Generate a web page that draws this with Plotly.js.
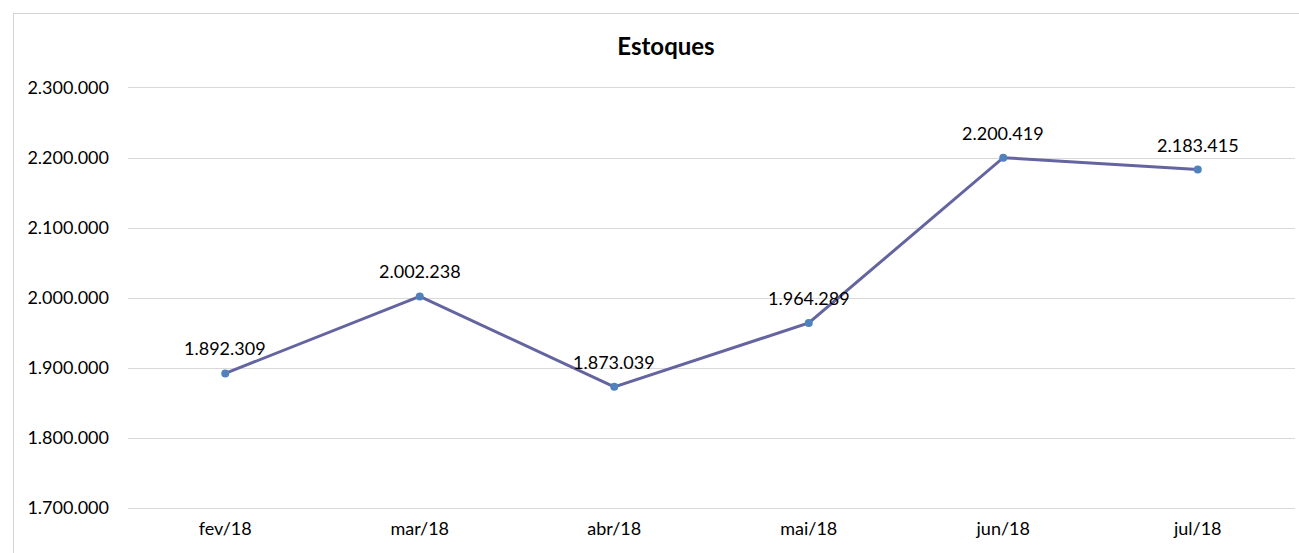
<!DOCTYPE html>
<html>
<head>
<meta charset="utf-8">
<script src="https://cdn.plot.ly/plotly-3.0.1.min.js"></script>
<style>
html,body{margin:0;padding:0;background:#fff;overflow:hidden;}
#frame{position:absolute;left:13px;top:13px;width:1400px;height:700px;border:1px solid #d4d4d4;box-sizing:border-box;}
#chart{position:absolute;left:0;top:0;width:1299px;height:553px;}
</style>
</head>
<body>
<div id="frame"></div>
<div id="chart"></div>
<script>
const categories = ["fev/18","mar/18","abr/18","mai/18","jun/18","jul/18"];
const estoques = [1892309, 2002238, 1873039, 1964289, 2200419, 2183415];
const yTicks = [1700000,1800000,1900000,2000000,2100000,2200000,2300000];
const chartTitle = "Estoques";

const font = "Lato, 'Open Sans', sans-serif";

function fmt(v){
  return String(v).replace(/\B(?=(\d{3})+(?!\d))/g, ".");
}

const trace = {
  x: categories,
  y: estoques,
  type: "scatter",
  mode: "lines+markers",
  line: {color: "#6464A0", width: 3},
  marker: {color: "#4F81BD", size: 8},
  cliponaxis: false,
  hoverinfo: "skip"
};

const annotations = categories.map((c, i) => ({
  x: c, y: estoques[i], xref: "x", yref: "y",
  text: fmt(estoques[i]),
  showarrow: false,
  xanchor: "center", yanchor: "middle",
  yshift: 25,
  font: {family: font, size: 18, color: "#000"}
}));

const layout = {
  width: 1299, height: 553,
  paper_bgcolor: "rgba(0,0,0,0)",
  plot_bgcolor: "rgba(0,0,0,0)",
  separators: ",.",
  margin: {l: 128, r: 4, t: 88, b: 45},
  showlegend: false,
  font: {family: font, size: 18, color: "#000"},
  annotations: annotations,
  title: {
    text: "<b>" + chartTitle + "</b>",
    font: {family: font, size: 24, color: "#000"},
    xref: "container", x: 666/1299, xanchor: "center",
    yref: "container", y: 1 - 47/553, yanchor: "middle"
  },
  xaxis: {
    type: "category",
    range: [-0.5, 5.5],
    showgrid: false,
    showline: true,
    mirror: true,
    linecolor: "#D9D9D9",
    linewidth: 1,
    zeroline: false,
    ticks: "",
    ticklabelstandoff: 4,
    tickfont: {family: font, size: 18, color: "#000"}
  },
  yaxis: {
    range: [1700000, 2300000],
    tickvals: yTicks,
    tickformat: ",d",
    showgrid: true,
    gridcolor: "#D9D9D9",
    gridwidth: 1,
    zeroline: false,
    showline: false,
    ticks: "",
    ticklabelstandoff: 18,
    tickfont: {family: font, size: 18, color: "#000"}
  }
};

Plotly.newPlot("chart", [trace], layout, {displayModeBar: false, staticPlot: true});
</script>
</body>
</html>
